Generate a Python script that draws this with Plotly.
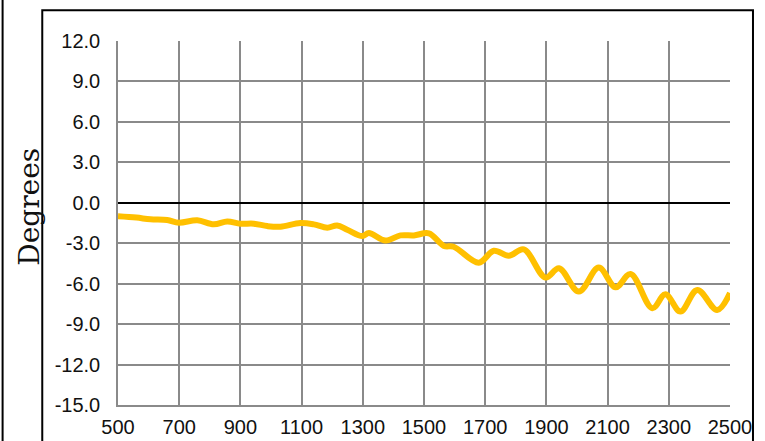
import plotly.graph_objects as go

freq = [500, 560, 606, 661, 699, 759, 813, 857, 900, 944, 988, 1031, 1096, 1140,
        1184, 1216, 1249, 1298, 1320, 1374, 1423, 1467, 1516, 1565, 1597, 1679,
        1728, 1777, 1826, 1897, 1941, 2006, 2071, 2126, 2175, 2246, 2289, 2338,
        2393, 2458, 2500]
phase = [-1.0, -1.1, -1.23, -1.28, -1.48, -1.3, -1.6, -1.38, -1.55, -1.55, -1.73,
         -1.78, -1.5, -1.6, -1.85, -1.68, -2.0, -2.47, -2.25, -2.8, -2.42, -2.42,
         -2.27, -3.2, -3.26, -4.44, -3.56, -3.93, -3.45, -5.55, -4.86, -6.59,
         -4.81, -6.27, -5.28, -7.82, -6.79, -8.07, -6.47, -7.95, -6.7]
x_ticks = [500, 700, 900, 1100, 1300, 1500, 1700, 1900, 2100, 2300, 2500]
y_ticks = [12.0, 9.0, 6.0, 3.0, 0.0, -3.0, -6.0, -9.0, -12.0, -15.0]

W, H = 765, 441
L, R, T, B = 117.5, 35, 40.7, 36
pw, ph = W - L - R, H - T - B

def px(x):
    return (x - L) / pw

def py(y):
    return (H - B - y) / ph

GRID = "#8a8a8a"
fig = go.Figure()
fig.add_trace(go.Scatter(x=freq, y=phase, mode="lines",
                         line=dict(color="#FFC000", width=6, shape="spline", smoothing=1.0),
                         showlegend=False, hoverinfo="skip"))

fig.update_layout(
    width=W, height=H,
    margin=dict(l=L, r=R, t=T, b=B, autoexpand=False),
    paper_bgcolor="white", plot_bgcolor="white",
    font=dict(family="Liberation Sans, Arial", size=20, color="#111111"),
    xaxis=dict(range=[500, 2500], tickvals=x_ticks, ticktext=[str(v) for v in x_ticks],
               showgrid=True, gridcolor=GRID, gridwidth=1.5,
               showline=True, linecolor=GRID, linewidth=1.5,
               ticks="outside", ticklen=3, tickcolor="rgba(0,0,0,0)",
               zeroline=False, automargin=False),
    yaxis=dict(range=[-15, 12], tickvals=y_ticks, ticktext=[f"{v:.1f}" for v in y_ticks],
               showgrid=True, gridcolor=GRID, gridwidth=1.5,
               showline=True, linecolor=GRID, linewidth=1.5,
               ticks="outside", ticklen=12, tickcolor="rgba(0,0,0,0)",
               zeroline=True, zerolinecolor="black", zerolinewidth=1.5,
               automargin=False),
    shapes=[
        dict(type="rect", xref="paper", yref="paper",
             x0=px(41.7), x1=px(753), y0=py(460), y1=py(10),
             line=dict(color="black", width=2), fillcolor="rgba(0,0,0,0)", layer="above"),
        dict(type="line", xref="paper", yref="paper",
             x0=px(2), x1=px(2), y0=py(460), y1=py(-10),
             line=dict(color="black", width=2)),
    ],
    annotations=[
        dict(text="Degrees", xref="paper", yref="paper", x=px(29), y=py(207),
             showarrow=False, textangle=-90, xanchor="center", yanchor="middle",
             font=dict(family="DejaVu Serif", size=28, color="#111111")),
    ],
)

fig.write_html("out.html", config={"displayModeBar": False},
               post_script="document.body.style.margin='0';document.body.style.overflow='hidden';")
